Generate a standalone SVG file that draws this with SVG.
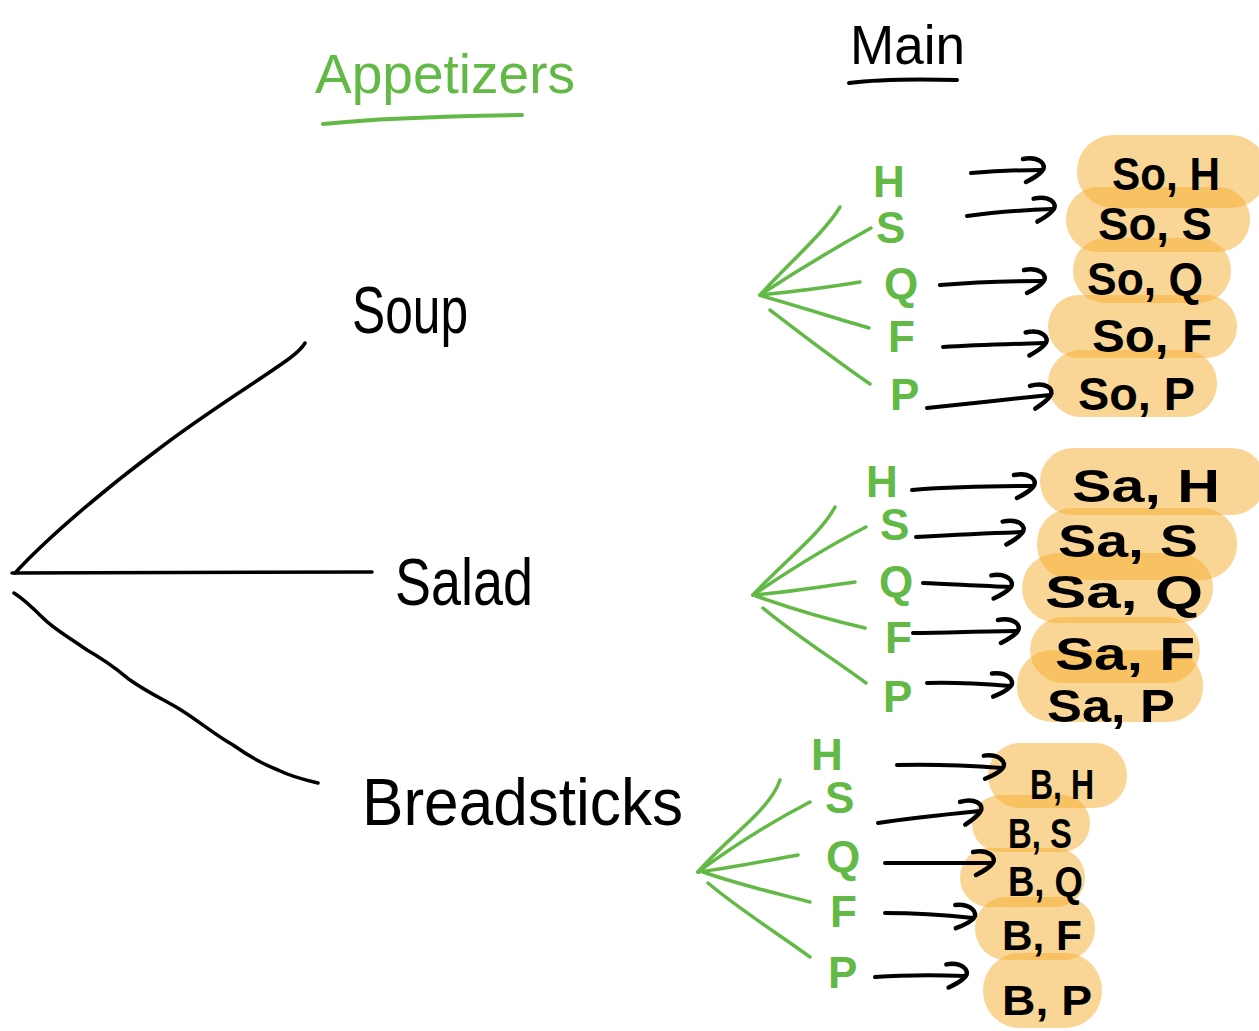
<svg xmlns="http://www.w3.org/2000/svg" width="1259" height="1031" viewBox="0 0 1259 1031">
  <style>
    .ink { fill: none; stroke: #000; stroke-width: 3.5; stroke-linecap: round; stroke-linejoin: round; }
    .fan { fill: none; stroke: #62b946; stroke-width: 3.5; stroke-linecap: round; stroke-linejoin: round; }
    .arrow { fill: none; stroke: #000; stroke-width: 4; stroke-linecap: round; stroke-linejoin: round; marker-end: url(#hook); }
    .blob { fill: #f5ad2d; fill-opacity: 0.5; }
    .title { font-family: "Liberation Sans", Arial, sans-serif; font-size: 56px; }
    .big { font-family: "Liberation Sans", Arial, sans-serif; font-size: 66px; fill: #000; }
    .letter { font-family: "Liberation Sans", Arial, sans-serif; font-size: 44px; font-weight: bold; fill: #62b946; }
    .pair { font-family: "Liberation Sans", Arial, sans-serif; font-size: 46px; font-weight: bold; fill: #000; }
    .pair-b { font-family: "Liberation Sans", Arial, sans-serif; font-size: 42px; font-weight: bold; fill: #000; }
  </style>
  <defs>
    <!-- open, curved arrow tip drawn like a pen hook -->
    <marker id="hook" markerUnits="userSpaceOnUse" viewBox="-25 -16 35 32" markerWidth="35" markerHeight="32" refX="0" refY="0" orient="auto">
      <path d="M-19,-11 C-4,-14 6,-6 0,1 C-4,6 -10,9 -16,12" fill="none" stroke="#000" stroke-width="4.5" stroke-linecap="round" stroke-linejoin="round"/>
    </marker>
  </defs>
  <rect width="1259" height="1031" fill="#fff"/>

  <!-- column headings -->
  <g id="heading-appetizers">
    <text class="title" x="315" y="93" fill="#62b946" textLength="260" lengthAdjust="spacingAndGlyphs">Appetizers</text>
    <path d="M323,124 C380,118 450,116 522,115" fill="none" stroke="#62b946" stroke-width="4" stroke-linecap="round"/>
  </g>
  <g id="heading-main">
    <text class="title" x="850" y="64" fill="#000" textLength="115" lengthAdjust="spacingAndGlyphs">Main</text>
    <path d="M849,83 C880,79 920,79 957,80" fill="none" stroke="#000" stroke-width="4" stroke-linecap="round"/>
  </g>

  <!-- highlighted outcomes -->
  <g id="highlights">
    <rect class="blob" x="1077" y="135" width="190" height="73" rx="36"/>
    <rect class="blob" x="1066" y="187" width="184" height="65" rx="32"/>
    <rect class="blob" x="1073" y="238" width="158" height="65" rx="32"/>
    <rect class="blob" x="1048" y="295" width="189" height="63" rx="31"/>
    <rect class="blob" x="1048" y="350" width="169" height="67" rx="33"/>

    <rect class="blob" x="1040" y="448" width="225" height="67" rx="33"/>
    <rect class="blob" x="1037" y="508" width="200" height="72" rx="35"/>
    <rect class="blob" x="1022" y="553" width="191" height="70" rx="35"/>
    <rect class="blob" x="1030" y="617" width="170" height="66" rx="33"/>
    <rect class="blob" x="1017" y="650" width="186" height="72" rx="35"/>

    <rect class="blob" x="988" y="743" width="139" height="65" rx="32"/>
    <rect class="blob" x="972" y="795" width="118" height="57" rx="28"/>
    <rect class="blob" x="960" y="848" width="125" height="59" rx="29"/>
    <rect class="blob" x="975" y="897" width="120" height="63" rx="31"/>
    <rect class="blob" x="983" y="953" width="119" height="75" rx="37"/>
  </g>

  <!-- connectors -->
  <g id="connectors">
    <!-- root branches -->
    <path class="ink" d="M15,573 C50,535 110,485 160,448 C210,410 260,380 290,358 C298,352 302,348 305,343"/>
    <path class="ink" d="M12,573 L372,572"/>
    <path class="ink" d="M14,593 C25,600 35,610 43,618 C55,630 66,635 87,650 C110,663 120,672 130,680 C150,694 165,700 181,710 C200,722 215,735 233,745 C250,757 265,765 278,770 C290,776 305,780 318,783"/>

    <!-- soup fan -->
    <path class="fan" d="M760,295 C790,262 825,232 840,207"/>
    <path class="fan" d="M760,295 C795,272 835,248 871,228"/>
    <path class="fan" d="M760,295 C790,292 830,287 860,282"/>
    <path class="fan" d="M762,296 C800,307 835,318 869,328"/>
    <path class="fan" d="M770,310 C800,333 835,360 870,384"/>

    <!-- salad fan -->
    <path class="fan" d="M753,595 C785,560 820,535 835,507"/>
    <path class="fan" d="M753,595 C790,570 830,545 866,527"/>
    <path class="fan" d="M753,595 C790,592 825,586 855,582"/>
    <path class="fan" d="M756,596 C795,610 830,620 865,628"/>
    <path class="fan" d="M763,608 C795,635 835,660 866,683"/>

    <!-- breadsticks fan -->
    <path class="fan" d="M698,872 C730,835 770,810 780,780"/>
    <path class="fan" d="M698,872 C735,845 775,820 810,802"/>
    <path class="fan" d="M698,872 C735,867 770,860 798,855"/>
    <path class="fan" d="M703,872 C740,885 775,893 810,902"/>
    <path class="fan" d="M708,883 C740,910 780,935 810,957"/>

    <!-- soup arrows -->
    <path class="arrow" d="M971,173 C995,171 1020,170 1042,170"/>
    <path class="arrow" d="M967,216 C995,212 1025,210 1053,209"/>
    <path class="arrow" d="M940,285 C975,282 1010,281 1043,281"/>
    <path class="arrow" d="M943,347 C975,345 1010,344 1045,343"/>
    <path class="arrow" d="M927,408 C965,404 1010,399 1050,395"/>

    <!-- salad arrows -->
    <path class="arrow" d="M912,490 C950,487 995,486 1033,486"/>
    <path class="arrow" d="M916,537 C950,535 990,533 1022,532"/>
    <path class="arrow" d="M923,583 C950,584 980,586 1010,587"/>
    <path class="arrow" d="M913,633 C945,633 985,631 1017,631"/>
    <path class="arrow" d="M927,683 C955,682 985,684 1010,686"/>

    <!-- breadsticks arrows -->
    <path class="arrow" d="M897,765 C935,764 975,766 1002,768"/>
    <path class="arrow" d="M878,823 C910,818 950,814 980,811"/>
    <path class="arrow" d="M885,863 C920,863 960,863 992,863"/>
    <path class="arrow" d="M885,913 C915,913 945,915 973,918"/>
    <path class="arrow" d="M875,977 C905,975 935,975 965,976"/>
  </g>

  <!-- appetizer nodes -->
  <g id="node-soup"><text class="big" x="352" y="333" textLength="116" lengthAdjust="spacingAndGlyphs">Soup</text></g>
  <g id="node-salad"><text class="big" x="395" y="605" textLength="138" lengthAdjust="spacingAndGlyphs">Salad</text></g>
  <g id="node-breadsticks"><text class="big" x="362" y="825" textLength="321" lengthAdjust="spacingAndGlyphs">Breadsticks</text></g>

  <!-- main choices after soup -->
  <g id="soup-mains">
    <text class="letter" x="873" y="197">H</text>
    <text class="letter" x="876" y="243" font-size="38">S</text>
    <text class="letter" x="884" y="299">Q</text>
    <text class="letter" x="888" y="352">F</text>
    <text class="letter" x="890" y="410">P</text>
  </g>
  <!-- main choices after salad -->
  <g id="salad-mains">
    <text class="letter" x="866" y="497">H</text>
    <text class="letter" x="880" y="540" font-size="38">S</text>
    <text class="letter" x="879" y="597">Q</text>
    <text class="letter" x="885" y="653">F</text>
    <text class="letter" x="883" y="712">P</text>
  </g>
  <!-- main choices after breadsticks -->
  <g id="breadsticks-mains">
    <text class="letter" x="811" y="770">H</text>
    <text class="letter" x="825" y="813" font-size="38">S</text>
    <text class="letter" x="826" y="872">Q</text>
    <text class="letter" x="830" y="927">F</text>
    <text class="letter" x="828" y="988">P</text>
  </g>

  <!-- outcome pairs -->
  <g id="outcomes-soup">
    <text class="pair" x="1112" y="190" textLength="108" lengthAdjust="spacingAndGlyphs">So, H</text>
    <text class="pair" x="1098" y="240" textLength="114" lengthAdjust="spacingAndGlyphs">So, S</text>
    <text class="pair" x="1087" y="295" textLength="116" lengthAdjust="spacingAndGlyphs">So, Q</text>
    <text class="pair" x="1092" y="352" textLength="120" lengthAdjust="spacingAndGlyphs">So, F</text>
    <text class="pair" x="1078" y="410" textLength="117" lengthAdjust="spacingAndGlyphs">So, P</text>
  </g>
  <g id="outcomes-salad">
    <text class="pair" x="1072" y="502" textLength="148" lengthAdjust="spacingAndGlyphs">Sa, H</text>
    <text class="pair" x="1058" y="557" textLength="140" lengthAdjust="spacingAndGlyphs">Sa, S</text>
    <text class="pair" x="1045" y="608" textLength="158" lengthAdjust="spacingAndGlyphs">Sa, Q</text>
    <text class="pair" x="1055" y="670" textLength="140" lengthAdjust="spacingAndGlyphs">Sa, F</text>
    <text class="pair" x="1047" y="722" textLength="128" lengthAdjust="spacingAndGlyphs">Sa, P</text>
  </g>
  <g id="outcomes-breadsticks">
    <text class="pair-b" x="1030" y="799" textLength="64" lengthAdjust="spacingAndGlyphs">B, H</text>
    <text class="pair-b" x="1008" y="848" textLength="64" lengthAdjust="spacingAndGlyphs">B, S</text>
    <text class="pair-b" x="1008" y="896" textLength="75" lengthAdjust="spacingAndGlyphs">B, Q</text>
    <text class="pair-b" x="1002" y="950" textLength="80" lengthAdjust="spacingAndGlyphs">B, F</text>
    <text class="pair-b" x="1002" y="1015" textLength="90" lengthAdjust="spacingAndGlyphs">B, P</text>
  </g>
</svg>
